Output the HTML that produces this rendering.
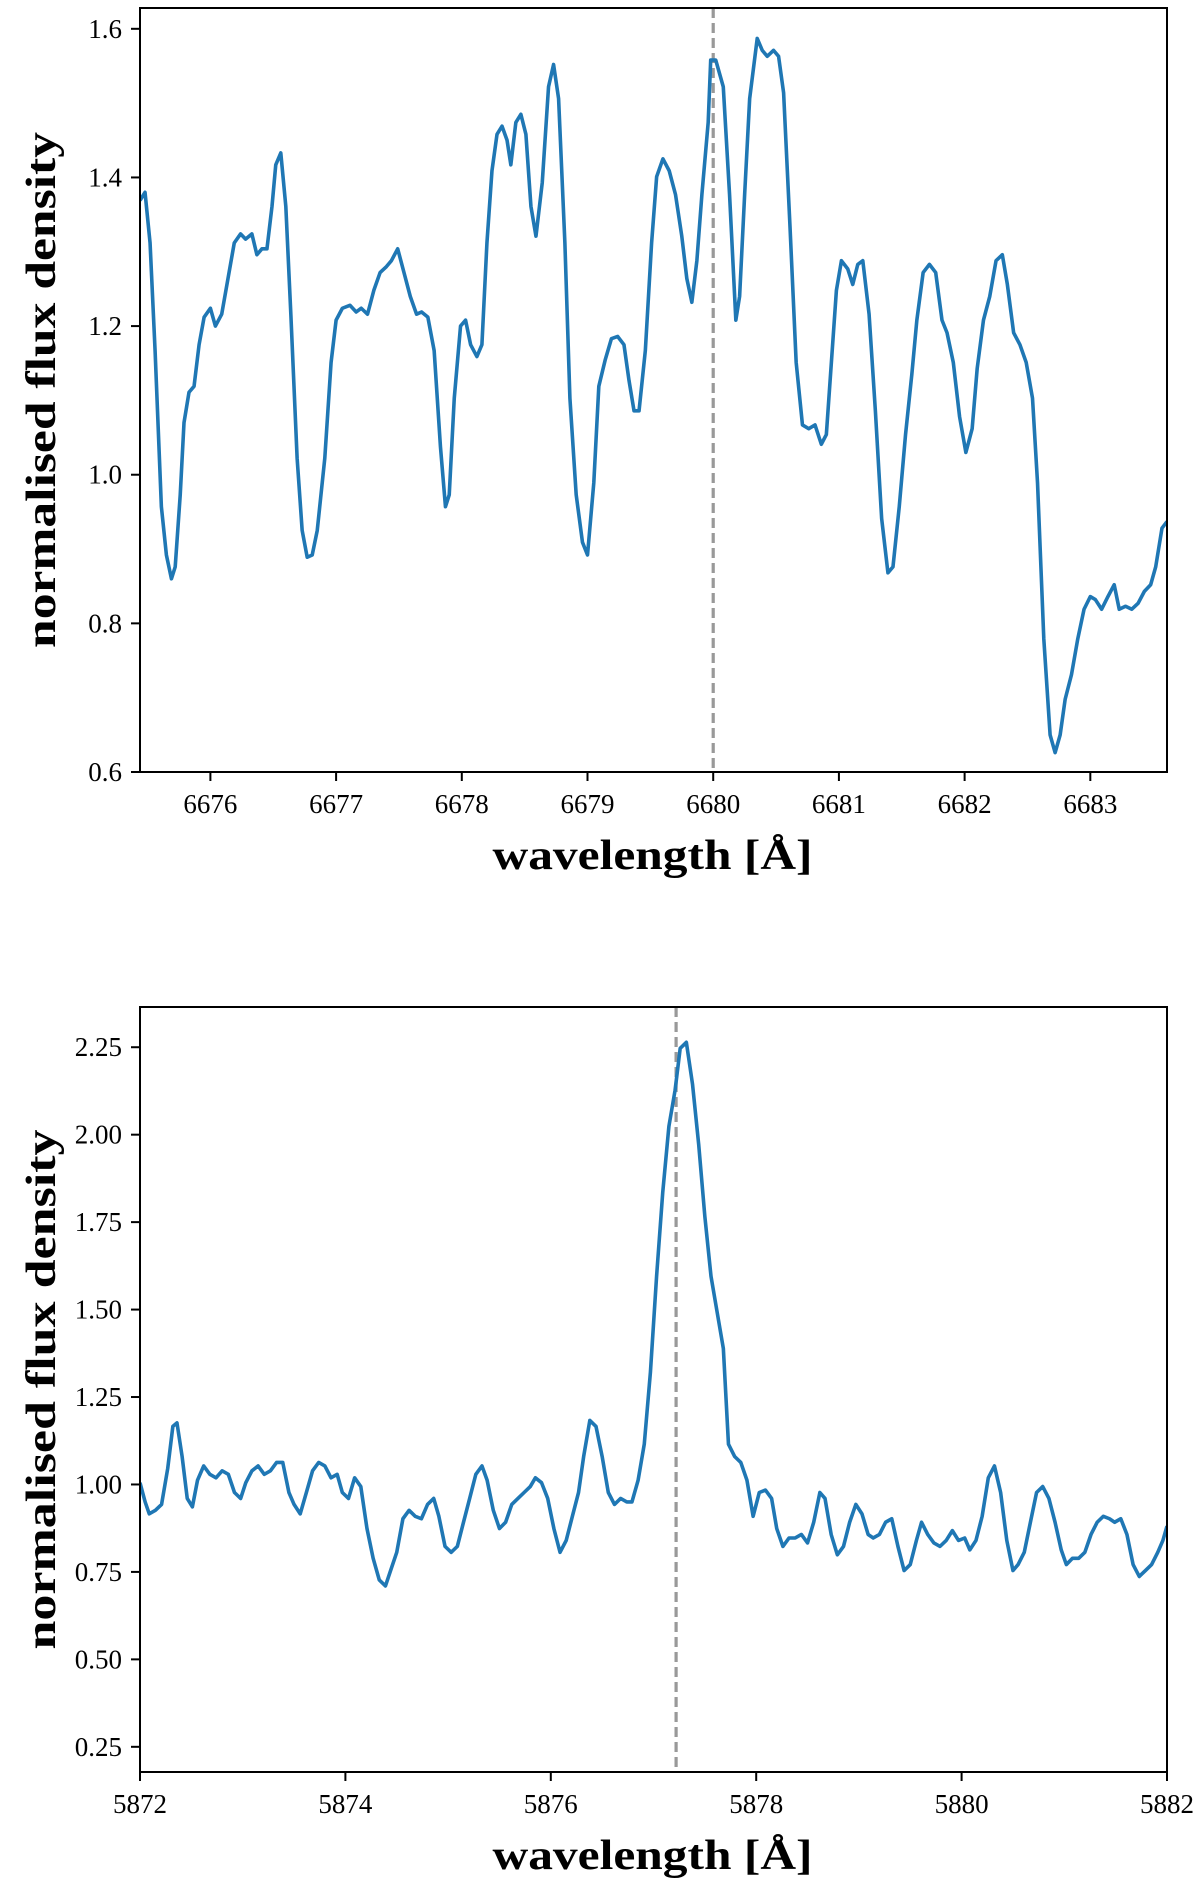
<!DOCTYPE html>
<html><head><meta charset="utf-8">
<style>
html,body{margin:0;padding:0;background:#fff;}
svg{display:block;}
text{font-family:"Liberation Serif",serif;fill:#000;}
</style></head>
<body>
<svg id="fig" width="1200" height="1888" viewBox="0 0 1200 1888" xmlns="http://www.w3.org/2000/svg"></svg>
<script>
// ---- Top panel data (He I 6678 region) ----
const topWave = [6675.44,6675.48,6675.52,6675.56,6675.61,6675.65,6675.69,6675.72,6675.76,6675.79,6675.83,6675.87,6675.91,6675.95,6676.00,6676.04,6676.09,6676.14,6676.19,6676.24,6676.28,6676.33,6676.37,6676.41,6676.45,6676.49,6676.52,6676.56,6676.60,6676.64,6676.69,6676.73,6676.77,6676.81,6676.85,6676.91,6676.96,6677.00,6677.05,6677.11,6677.16,6677.20,6677.25,6677.30,6677.35,6677.40,6677.44,6677.49,6677.54,6677.59,6677.64,6677.68,6677.73,6677.78,6677.83,6677.87,6677.90,6677.94,6677.99,6678.03,6678.07,6678.12,6678.16,6678.20,6678.24,6678.28,6678.32,6678.36,6678.39,6678.43,6678.47,6678.51,6678.55,6678.59,6678.64,6678.69,6678.73,6678.77,6678.82,6678.86,6678.91,6678.96,6679.00,6679.05,6679.09,6679.14,6679.19,6679.24,6679.29,6679.33,6679.37,6679.41,6679.46,6679.51,6679.55,6679.60,6679.65,6679.70,6679.75,6679.79,6679.83,6679.87,6679.91,6679.96,6679.98,6680.02,6680.08,6680.13,6680.18,6680.21,6680.25,6680.29,6680.35,6680.39,6680.43,6680.48,6680.52,6680.56,6680.61,6680.66,6680.71,6680.76,6680.81,6680.86,6680.90,6680.94,6680.98,6681.02,6681.07,6681.11,6681.15,6681.19,6681.24,6681.29,6681.34,6681.39,6681.43,6681.48,6681.53,6681.58,6681.62,6681.67,6681.72,6681.77,6681.82,6681.86,6681.91,6681.96,6682.01,6682.06,6682.10,6682.15,6682.20,6682.25,6682.30,6682.34,6682.39,6682.44,6682.49,6682.54,6682.58,6682.63,6682.68,6682.72,6682.76,6682.80,6682.85,6682.90,6682.95,6683.00,6683.04,6683.09,6683.14,6683.19,6683.23,6683.28,6683.33,6683.38,6683.43,6683.48,6683.52,6683.57,6683.61];
const topFlux = [1.369,1.380,1.312,1.167,0.957,0.892,0.860,0.876,0.973,1.070,1.111,1.119,1.175,1.212,1.224,1.200,1.216,1.264,1.312,1.324,1.317,1.324,1.296,1.304,1.304,1.361,1.417,1.433,1.361,1.216,1.022,0.925,0.889,0.892,0.925,1.022,1.151,1.208,1.224,1.228,1.219,1.224,1.216,1.248,1.272,1.280,1.288,1.304,1.272,1.240,1.216,1.219,1.212,1.167,1.038,0.957,0.973,1.103,1.200,1.208,1.175,1.159,1.175,1.312,1.409,1.458,1.469,1.450,1.417,1.474,1.485,1.458,1.361,1.321,1.393,1.522,1.552,1.506,1.312,1.103,0.973,0.909,0.892,0.989,1.119,1.154,1.183,1.186,1.175,1.127,1.086,1.086,1.167,1.312,1.401,1.425,1.409,1.377,1.321,1.264,1.232,1.288,1.377,1.474,1.558,1.558,1.522,1.377,1.208,1.240,1.377,1.506,1.587,1.571,1.563,1.571,1.563,1.514,1.337,1.151,1.067,1.062,1.067,1.041,1.054,1.151,1.248,1.288,1.277,1.256,1.283,1.288,1.216,1.086,0.941,0.868,0.876,0.957,1.054,1.135,1.208,1.272,1.283,1.272,1.208,1.191,1.151,1.078,1.030,1.062,1.143,1.208,1.240,1.288,1.296,1.256,1.191,1.175,1.151,1.103,0.989,0.779,0.650,0.626,0.650,0.698,0.731,0.779,0.819,0.836,0.832,0.819,0.836,0.852,0.819,0.823,0.819,0.827,0.843,0.852,0.876,0.928,0.937];
const topXTicks = [6676,6677,6678,6679,6680,6681,6682,6683];
const topYTicks = [0.6,0.8,1.0,1.2,1.4,1.6];
const topYTickLabels = ["0.6","0.8","1.0","1.2","1.4","1.6"];
const topRefLine = [6680.0];

// ---- Bottom panel data (He I 5876 region) ----
const botWave = [5872.00,5872.05,5872.09,5872.15,5872.21,5872.27,5872.32,5872.36,5872.41,5872.46,5872.51,5872.56,5872.62,5872.68,5872.74,5872.80,5872.86,5872.92,5872.98,5873.03,5873.09,5873.15,5873.21,5873.27,5873.33,5873.39,5873.45,5873.50,5873.56,5873.62,5873.68,5873.74,5873.80,5873.86,5873.92,5873.97,5874.03,5874.09,5874.15,5874.21,5874.27,5874.33,5874.39,5874.44,5874.50,5874.56,5874.62,5874.68,5874.74,5874.80,5874.86,5874.91,5874.97,5875.03,5875.09,5875.15,5875.21,5875.27,5875.33,5875.38,5875.44,5875.50,5875.56,5875.62,5875.68,5875.74,5875.80,5875.85,5875.91,5875.97,5876.03,5876.09,5876.15,5876.21,5876.27,5876.32,5876.38,5876.44,5876.50,5876.56,5876.62,5876.68,5876.74,5876.79,5876.85,5876.91,5876.97,5877.03,5877.09,5877.15,5877.21,5877.26,5877.32,5877.38,5877.44,5877.50,5877.56,5877.62,5877.68,5877.73,5877.79,5877.85,5877.91,5877.97,5878.03,5878.09,5878.15,5878.20,5878.26,5878.32,5878.38,5878.44,5878.50,5878.56,5878.62,5878.67,5878.73,5878.79,5878.85,5878.91,5878.97,5879.03,5879.09,5879.14,5879.20,5879.26,5879.32,5879.38,5879.44,5879.50,5879.56,5879.61,5879.67,5879.73,5879.79,5879.85,5879.91,5879.97,5880.03,5880.08,5880.14,5880.20,5880.26,5880.32,5880.38,5880.44,5880.50,5880.55,5880.61,5880.67,5880.73,5880.79,5880.85,5880.91,5880.97,5881.02,5881.08,5881.14,5881.20,5881.26,5881.32,5881.38,5881.44,5881.49,5881.55,5881.61,5881.67,5881.73,5881.79,5881.85,5881.91,5881.96,5882.00];
const botFlux = [1.005,0.950,0.916,0.926,0.943,1.046,1.166,1.176,1.080,0.960,0.936,1.012,1.053,1.029,1.019,1.039,1.029,0.977,0.960,1.005,1.039,1.053,1.029,1.039,1.063,1.063,0.977,0.943,0.916,0.977,1.039,1.063,1.053,1.019,1.029,0.977,0.960,1.019,0.994,0.874,0.789,0.727,0.710,0.754,0.806,0.902,0.926,0.909,0.902,0.943,0.960,0.909,0.823,0.806,0.823,0.892,0.960,1.029,1.053,1.012,0.926,0.874,0.892,0.943,0.960,0.977,0.994,1.019,1.005,0.960,0.874,0.806,0.840,0.909,0.977,1.080,1.183,1.166,1.080,0.977,0.943,0.960,0.950,0.950,1.012,1.115,1.321,1.595,1.835,2.024,2.127,2.247,2.264,2.144,1.972,1.766,1.595,1.492,1.389,1.115,1.080,1.063,1.012,0.909,0.977,0.984,0.960,0.874,0.823,0.847,0.847,0.857,0.833,0.892,0.977,0.960,0.857,0.799,0.823,0.892,0.943,0.916,0.857,0.847,0.857,0.892,0.902,0.823,0.754,0.771,0.840,0.892,0.857,0.833,0.823,0.840,0.868,0.840,0.847,0.813,0.840,0.909,1.019,1.053,0.977,0.840,0.754,0.771,0.806,0.892,0.977,0.994,0.960,0.892,0.813,0.771,0.789,0.789,0.806,0.857,0.892,0.909,0.902,0.892,0.902,0.857,0.771,0.737,0.754,0.771,0.806,0.840,0.881];
const botXTicks = [5872,5874,5876,5878,5880,5882];
const botYTicks = [0.25,0.5,0.75,1.0,1.25,1.5,1.75,2.0,2.25];
const botYTickLabels = ["0.25","0.50","0.75","1.00","1.25","1.50","1.75","2.00","2.25"];
const botRefLine = [5877.22];

const NS = "http://www.w3.org/2000/svg";
const svg = document.getElementById('fig');
function mk(tag, attrs, parent){
  const e = document.createElementNS(NS, tag);
  for (const k in attrs) e.setAttribute(k, attrs[k]);
  (parent||svg).appendChild(e);
  return e;
}

function panel(cfg){
  const g = mk('g', {});
  
  
  const L=cfg.left, R=cfg.right, T=cfg.top, B=cfg.bottom;
  const xs = v => L + (v - cfg.xmin) / (cfg.xmax - cfg.xmin) * (R - L);
  const ys = v => B - (v - cfg.ymin) / (cfg.ymax - cfg.ymin) * (B - T);

  cfg.ref.forEach(r => {
    const ln = mk('line', {x1:xs(r), x2:xs(r), y1:T, y2:B, stroke:'#999999', 'stroke-width':3.2, 'stroke-dasharray':'10,5'}, g);
    
    
  });

  let d = '';
  cfg.wave.forEach((w,i) => { d += (i ? 'L' : 'M') + xs(w).toFixed(2) + ',' + ys(cfg.flux[i]).toFixed(2); });
  const clipId = cfg.name + '-clip';
  const cp = mk('clipPath', {id: clipId}, g);
  mk('rect', {x:L, y:T, width:R-L, height:B-T}, cp);
  const p = mk('path', {d:d, fill:'none', stroke:'#1f77b4', 'stroke-width':3.6, 'stroke-linejoin':'round', 'clip-path':'url(#'+clipId+')'}, g);
  
  

  const fr = mk('rect', {x:L, y:T, width:R-L, height:B-T, fill:'none', stroke:'#000', 'stroke-width':2}, g);
  
  

  cfg.xticks.forEach(t => {
    const x = xs(t);
    const tk = mk('line', {x1:x, x2:x, y1:B, y2:B+9, stroke:'#000', 'stroke-width':2}, g);
    
    
    const tx = mk('text', {x:x, y:B+41, 'text-anchor':'middle', 'font-size':27}, g);
    
    
    tx.textContent = String(t);
  });
  cfg.yticks.forEach((t,i) => {
    const y = ys(t);
    const tk = mk('line', {x1:L-9, x2:L, y1:y, y2:y, stroke:'#000', 'stroke-width':2}, g);
    
    
    const tx = mk('text', {x:L-18, y:y+9, 'text-anchor':'end', 'font-size':27}, g);
    
    
    tx.textContent = cfg.ylabels[i];
  });
  const xl = mk('text', {x:(L+R)/2 - 1, y:B+97, 'text-anchor':'middle', 'font-size':42, 'font-weight':'bold', textLength:320, lengthAdjust:'spacingAndGlyphs'}, g);
  
  
  xl.textContent = 'wavelength [Å]';
  const cy = (T+B)/2;
  const yl = mk('text', {x:0, y:0, 'text-anchor':'middle', 'font-size':42, 'font-weight':'bold', textLength:cfg.ylabelLen, lengthAdjust:'spacingAndGlyphs', transform:'translate(55,'+cy+') rotate(-90)'}, g);
  
  
  yl.textContent = 'normalised flux density';
}

panel({name:'top-panel', left:140, right:1167, top:8, bottom:772,
  xmin:6675.44, xmax:6683.61, ymin:0.6, ymax:1.628, ylabelLen:516,
  wave:topWave, flux:topFlux, xticks:topXTicks, yticks:topYTicks, ylabels:topYTickLabels, ref:topRefLine});
panel({name:'bottom-panel', left:140, right:1167, top:1007, bottom:1772,
  xmin:5872, xmax:5882, ymin:0.178, ymax:2.365, ylabelLen:520,
  wave:botWave, flux:botFlux, xticks:botXTicks, yticks:botYTicks, ylabels:botYTickLabels, ref:botRefLine});
</script>
</body></html>
